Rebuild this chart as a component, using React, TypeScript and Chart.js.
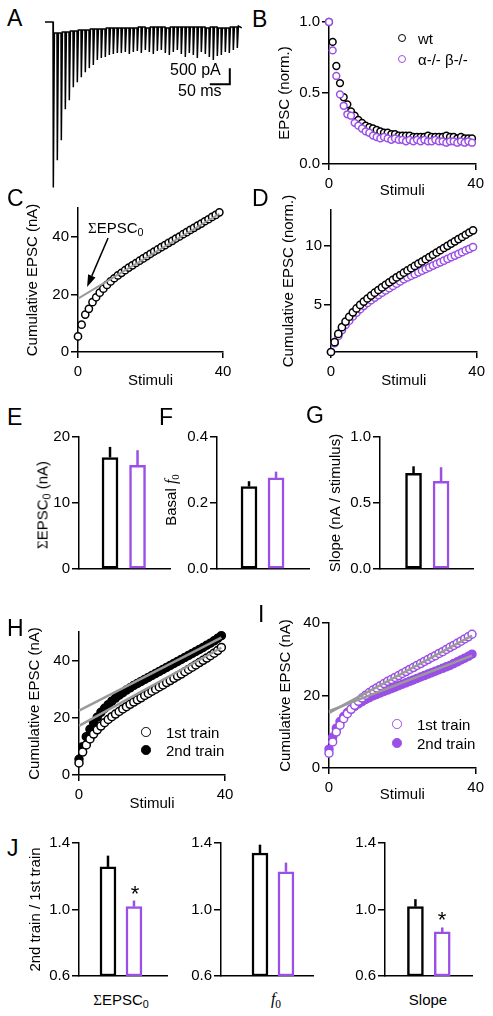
import React, { useEffect, useRef } from 'react';
import { Chart, registerables } from 'chart.js';

Chart.register(...registerables);

const SANS = "'Liberation Sans', Arial, Helvetica, sans-serif";
const SERIF = "'Liberation Serif', 'Times New Roman', serif";
const BLACK = '#000000';
const PURPLE = '#9a4fe6';
const GRAY = '#9a9a9a';

// ---------- Panel A: EPSC train ----------
const stimIntervalMs = 10;
const epscAmplitudePA = [5156, 4313, 3688, 2719, 2438, 2031, 1875, 1719, 1563, 1438, 1344, 1188, 1125, 1094, 1031, 1000, 969, 969, 938, 1000, 938, 906, 969, 875, 938, 1000, 906, 875, 969, 1031, 938, 875, 1000, 1094, 969, 1031, 1125, 938, 1000, 1094, 1188, 1063, 1031, 938, 969, 875, 813];
const residualCurrentPA = [344, 344, 313, 313, 281, 281, 250, 250, 250, 219, 219, 219, 219, 188, 188, 188, 188, 188, 188, 188, 188, 156, 156, 188, 156, 156, 156, 156, 188, 156, 156, 156, 156, 156, 156, 156, 156, 156, 188, 156, 156, 188, 188, 188, 156, 156, 125];
const scaleBarPA = 500;
const scaleBarMs = 50;
const scaleBarCornerMs = 442;
const scaleBarCornerPA = -1940;

// ---------- Panel B ----------
const stimTicks = [0, 40];
const bWt = [1.0, 0.86, 0.69, 0.57, 0.47, 0.42, 0.37, 0.34, 0.31, 0.29, 0.27, 0.26, 0.25, 0.24, 0.23, 0.22, 0.22, 0.21, 0.21, 0.2, 0.2, 0.2, 0.2, 0.19, 0.19, 0.19, 0.19, 0.2, 0.19, 0.19, 0.19, 0.19, 0.2, 0.19, 0.19, 0.18, 0.19, 0.18, 0.18, 0.18];
const bKo = [1.0, 0.8, 0.62, 0.49, 0.41, 0.35, 0.34, 0.29, 0.27, 0.25, 0.23, 0.22, 0.2, 0.19, 0.18, 0.19, 0.18, 0.17, 0.18, 0.17, 0.17, 0.16, 0.17, 0.16, 0.17, 0.16, 0.17, 0.16, 0.16, 0.17, 0.16, 0.16, 0.15, 0.16, 0.16, 0.15, 0.16, 0.15, 0.16, 0.15];
const bYTicks = [0, 0.5, 1.0];

// ---------- Panel C ----------
const cCumulative = [5.4, 9.5, 13.0, 15.0, 17.3, 19.0, 20.6, 22.0, 23.3, 24.5, 25.6, 26.6, 27.5, 28.4, 29.3, 30.1, 30.9, 31.7, 32.5, 33.3, 34.1, 34.9, 35.6, 36.4, 37.1, 37.9, 38.6, 39.4, 40.1, 40.9, 41.6, 42.4, 43.1, 43.9, 44.6, 45.4, 46.1, 46.9, 47.6, 48.5];
const cFitX = [0, 39];
const cFitY = [18.5, 48.0];
const cYTicks = [0, 20, 40];
const cArrowFrom = [8.3, 39.6];
const cArrowTo = [2.5, 22.6];

// ---------- Panel D ----------
const dWt = [1.0, 1.83, 2.53, 3.1, 3.57, 3.98, 4.35, 4.68, 4.98, 5.26, 5.52, 5.77, 6.01, 6.24, 6.46, 6.68, 6.89, 7.1, 7.3, 7.5, 7.7, 7.89, 8.08, 8.27, 8.46, 8.65, 8.84, 9.03, 9.22, 9.41, 9.6, 9.79, 9.97, 10.16, 10.35, 10.54, 10.72, 10.91, 11.1, 11.28];
const dKo = [1.0, 1.75, 2.35, 2.85, 3.28, 3.65, 4.0, 4.32, 4.62, 4.9, 5.15, 5.38, 5.6, 5.81, 6.01, 6.2, 6.39, 6.58, 6.77, 6.96, 7.15, 7.3, 7.44, 7.58, 7.73, 7.87, 8.01, 8.15, 8.3, 8.44, 8.58, 8.72, 8.87, 9.01, 9.15, 9.29, 9.44, 9.58, 9.72, 9.87];
const dYTicks = [5, 10];

// ---------- Panels E, F, G (wt, ko) ----------
const eMean = [16.9, 15.7];
const eSem = [1.6, 2.3];
const eYTicks = [0, 10, 20];
const fMean = [0.25, 0.276];
const fSem = [0.016, 0.019];
const fYTicks = [0, 0.2, 0.4];
const gMean = [0.725, 0.665];
const gSem = [0.053, 0.106];
const gYTicks = [0, 0.5, 1.0];

// ---------- Panel H ----------
const hTrain1 = [4.2, 8.0, 10.5, 12.6, 14.3, 15.8, 17.1, 18.3, 19.4, 20.4, 21.3, 22.2, 23.1, 23.9, 24.7, 25.5, 26.3, 27.0, 27.8, 28.5, 29.3, 30.0, 30.8, 31.5, 32.3, 33.0, 33.8, 34.6, 35.3, 36.1, 36.9, 37.7, 38.5, 39.3, 40.1, 40.9, 41.7, 42.6, 43.5, 44.6];
const hTrain2 = [5.5, 9.9, 13.4, 16.0, 18.3, 20.2, 21.9, 23.3, 24.6, 25.8, 26.9, 27.9, 28.8, 29.7, 30.5, 31.3, 32.0, 32.7, 33.4, 34.1, 34.8, 35.5, 36.2, 36.9, 37.6, 38.3, 39.0, 39.7, 40.4, 41.1, 41.8, 42.5, 43.2, 43.9, 44.6, 45.4, 46.1, 46.9, 47.8, 48.7];
const hFit1Y = [17.2, 44.5];
const hFit2Y = [22.5, 48.0];
const hYTicks = [0, 20, 40];

// ---------- Panel I ----------
const iTrain1 = [4.1, 7.2, 9.9, 11.8, 13.6, 15.0, 16.2, 17.3, 18.4, 19.3, 20.1, 20.8, 21.5, 22.1, 22.7, 23.3, 23.9, 24.4, 25.0, 25.5, 26.1, 26.6, 27.2, 27.7, 28.3, 28.8, 29.4, 29.9, 30.5, 31.0, 31.6, 32.1, 32.7, 33.3, 33.8, 34.4, 35.0, 35.6, 36.2, 36.9];
const iTrain2 = [5.2, 8.5, 11.0, 12.8, 14.2, 15.3, 16.2, 17.0, 17.7, 18.3, 18.9, 19.4, 19.9, 20.3, 20.7, 21.1, 21.5, 21.9, 22.3, 22.7, 23.1, 23.5, 23.9, 24.3, 24.7, 25.1, 25.5, 25.9, 26.3, 26.7, 27.1, 27.5, 27.9, 28.3, 28.8, 29.3, 29.8, 30.3, 30.8, 31.4];
const iFit1Y = [15.2, 36.5];
const iFit2Y = [15.7, 31.0];
const iYTicks = [0, 20, 40];
const fitX = [0, 39];

// ---------- Panel J (2nd / 1st train ratios: wt, ko) ----------
const jSigmaMean = [1.256, 1.017];
const jSigmaSem = [0.068, 0.037];
const jF0Mean = [1.34, 1.227];
const jF0Sem = [0.05, 0.055];
const jSlopeMean = [1.017, 0.865];
const jSlopeSem = [0.045, 0.027];
const jYTicks = [0.6, 1.0, 1.4];

const groupColors = [BLACK, PURPLE];

// ---------- helpers ----------
type Geo = { x0: number; x1: number; y0: number; y1: number; l: number; t: number; r: number; b: number };

const pts = (vals: number[]) => vals.map((y, i) => ({ x: i, y }));
const pairs = (xs: number[], ys: number[]) => xs.map((x, i) => ({ x, y: ys[i] }));

function yAxis(o: { min: number; max: number; ticks: number[]; dec: number; width: number; title?: string; titlePad?: number }) {
  return {
    type: 'linear',
    position: 'left',
    min: o.min,
    max: o.max,
    afterFit: (s: any) => { s.width = o.width; },
    afterBuildTicks: (s: any) => { s.ticks = o.ticks.map((v) => ({ value: v })); },
    border: { display: true, color: BLACK, width: 1.5 },
    grid: { display: true, drawOnChartArea: false, drawTicks: true, tickLength: 7, color: BLACK, lineWidth: 1.5 },
    ticks: { color: BLACK, font: { family: SANS, size: 15 }, padding: 2, callback: (v: number) => Number(v).toFixed(o.dec) },
    title: o.title
      ? { display: true, text: o.title, color: BLACK, font: { family: SANS, size: 15 }, padding: { top: o.titlePad ?? 6, bottom: 0 } }
      : { display: false },
  };
}

function xStimAxis(height: number) {
  return {
    type: 'linear',
    position: 'bottom',
    min: 0,
    max: 40,
    afterFit: (s: any) => { s.height = height; },
    afterBuildTicks: (s: any) => { s.ticks = stimTicks.map((v) => ({ value: v })); },
    border: { display: true, color: BLACK, width: 1.5 },
    grid: { display: true, drawOnChartArea: false, drawTicks: true, tickLength: 6, color: BLACK, lineWidth: 1.5 },
    ticks: { color: BLACK, font: { family: SANS, size: 15 }, padding: 5, maxRotation: 0 },
    title: { display: true, text: 'Stimuli', color: BLACK, font: { family: SANS, size: 15 }, padding: { top: 0, bottom: 0 } },
  };
}

function xBarAxis(min: number, max: number, height: number) {
  return {
    type: 'linear',
    position: 'bottom',
    min,
    max,
    offset: false,
    afterFit: (s: any) => { s.height = height; },
    border: { display: true, color: BLACK, width: 1.5 },
    grid: { display: false, offset: false },
    ticks: { display: false },
  };
}

function baseOptions(geo: Geo, scales: any) {
  return {
    responsive: false,
    animation: false,
    events: [],
    layout: { autoPadding: false, padding: { left: 0, top: geo.t, right: geo.r, bottom: 0 } },
    plugins: { legend: { display: false }, tooltip: { enabled: false }, title: { display: false } },
    scales,
  };
}

function circles(vals: number[], color: string, filled: boolean, r = 3.5) {
  return {
    type: 'scatter',
    data: pts(vals),
    showLine: false,
    pointStyle: 'circle',
    pointRadius: r,
    pointBorderWidth: 1.5,
    pointBorderColor: color,
    pointBackgroundColor: filled ? color : '#ffffff',
    clip: false,
  };
}

function fitLine(ys: number[], width = 2) {
  return {
    type: 'line',
    data: pairs(fitX, ys),
    showLine: true,
    borderColor: GRAY,
    borderWidth: width,
    pointRadius: 0,
    clip: false,
  };
}

function barChart(geo: Geo, means: number[], sems: number[], xMin: number, xMax: number, y: any, floorValue?: number) {
  const barData = means.map((m, i) => ({ x: i + 1, y: floorValue === undefined ? m : [floorValue, m] }));
  const errSets = means.map((m, i) => ({
    type: 'line',
    data: [{ x: i + 1, y: m }, { x: i + 1, y: m + sems[i] }],
    borderColor: groupColors[i],
    borderWidth: 2.5,
    pointRadius: 0,
    clip: false,
  }));
  return {
    type: 'bar',
    data: {
      datasets: [
        ...errSets,
        {
          type: 'bar',
          data: barData,
          backgroundColor: '#ffffff',
          borderColor: groupColors,
          borderWidth: 2.5,
          borderSkipped: false,
          barThickness: 16,
          clip: false,
        },
      ],
    },
    options: baseOptions(geo, { x: xBarAxis(xMin, xMax, geo.b), y }),
  };
}

function ChartCanvas({ geo, build, plugins }: { geo: Geo; build: () => any; plugins?: any[] }) {
  const ref = useRef<HTMLCanvasElement>(null);
  const left = geo.x0 - geo.l;
  const top = geo.y0 - geo.t;
  const width = geo.l + (geo.x1 - geo.x0) + geo.r;
  const height = geo.t + (geo.y1 - geo.y0) + geo.b;
  useEffect(() => {
    const cfg = build();
    if (plugins) cfg.plugins = plugins;
    const chart = new Chart(ref.current as HTMLCanvasElement, cfg);
    return () => chart.destroy();
  }, []);
  return <canvas ref={ref} width={width} height={height} style={{ position: 'absolute', left, top, width, height }} />;
}

function Txt({ x, y, size = 15, anchor = 'start', family = SANS, children, style }: any) {
  const tx = anchor === 'middle' ? 'translateX(-50%)' : anchor === 'end' ? 'translateX(-100%)' : undefined;
  return (
    <div
      style={{
        position: 'absolute', left: x, top: y - 0.8465 * size, fontSize: size, lineHeight: `${size}px`,
        fontFamily: family, whiteSpace: 'nowrap', color: BLACK, transform: tx, ...style,
      }}
    >
      {children}
    </div>
  );
}

function VTxt({ cx, cy, size = 15, children }: any) {
  return (
    <div
      style={{
        position: 'absolute', left: cx, top: cy, fontSize: size, lineHeight: `${size}px`, fontFamily: SANS,
        whiteSpace: 'nowrap', color: BLACK, transform: 'translate(-50%, -50%) rotate(-90deg)',
      }}
    >
      {children}
    </div>
  );
}

const Sub = ({ children, family }: any) => (
  <span style={{ fontSize: '0.72em', position: 'relative', top: '0.28em', fontFamily: family }}>{children}</span>
);

function Dot({ cx, cy, r = 3.5, color, filled }: any) {
  const s = 2 * (r + 0.75);
  return (
    <div
      style={{
        position: 'absolute', left: cx - s / 2, top: cy - s / 2, width: s, height: s, boxSizing: 'border-box',
        border: `1.5px solid ${color}`, borderRadius: '50%', background: filled ? color : '#ffffff',
      }}
    />
  );
}

const arrowPlugin = {
  id: 'arrowC',
  afterDatasetsDraw(chart: any) {
    const { ctx, scales } = chart;
    const x1 = scales.x.getPixelForValue(cArrowFrom[0]);
    const y1 = scales.y.getPixelForValue(cArrowFrom[1]);
    const x2 = scales.x.getPixelForValue(cArrowTo[0]);
    const y2 = scales.y.getPixelForValue(cArrowTo[1]);
    const ang = Math.atan2(y2 - y1, x2 - x1);
    const hl = 12;
    const hw = 4;
    const c = Math.cos(ang);
    const s = Math.sin(ang);
    ctx.save();
    ctx.strokeStyle = BLACK;
    ctx.fillStyle = BLACK;
    ctx.lineWidth = 1.5;
    ctx.beginPath();
    ctx.moveTo(x1, y1);
    ctx.lineTo(x2 - hl * c, y2 - hl * s);
    ctx.stroke();
    ctx.beginPath();
    ctx.moveTo(x2, y2);
    ctx.lineTo(x2 - hl * c + hw * s, y2 - hl * s - hw * c);
    ctx.lineTo(x2 - hl * c - hw * s, y2 - hl * s + hw * c);
    ctx.closePath();
    ctx.fill();
    ctx.restore();
  },
};

// ---------- geometry ----------
const geoA: Geo = { x0: 45, x1: 243, y0: 20, y1: 192, l: 0, t: 0, r: 0, b: 0 };
const geoB: Geo = { x0: 329, x1: 477, y0: 22, y1: 164, l: 59, t: 14, r: 12, b: 36 };
const geoC: Geo = { x0: 78, x1: 223, y0: 208, y1: 352, l: 60, t: 12, r: 14, b: 38 };
const geoD: Geo = { x0: 331, x1: 478, y0: 210, y1: 352, l: 57, t: 24, r: 12, b: 38 };
const geoE: Geo = { x0: 79, x1: 170, y0: 436, y1: 576, l: 40, t: 10, r: 4, b: 4 };
const geoF: Geo = { x0: 217, x1: 309, y0: 436, y1: 576, l: 50, t: 10, r: 4, b: 4 };
const geoG: Geo = { x0: 380, x1: 473, y0: 436, y1: 576, l: 59, t: 10, r: 4, b: 4 };
const geoH: Geo = { x0: 79, x1: 225, y0: 632, y1: 775, l: 59, t: 12, r: 14, b: 38 };
const geoI: Geo = { x0: 329, x1: 477, y0: 623, y1: 768, l: 58, t: 12, r: 12, b: 36 };
const geoJ1: Geo = { x0: 79, x1: 167, y0: 842, y1: 983, l: 58, t: 10, r: 4, b: 4 };
const geoJ2: Geo = { x0: 221, x1: 313, y0: 842, y1: 983, l: 45, t: 10, r: 4, b: 4 };
const geoJ3: Geo = { x0: 385, x1: 472, y0: 842, y1: 983, l: 45, t: 10, r: 4, b: 4 };

function buildA() {
  const trace: { x: number; y: number }[] = [{ x: -20, y: 0 }];
  epscAmplitudePA.forEach((amp, i) => {
    const t = i * stimIntervalMs;
    const prev = i === 0 ? 0 : -residualCurrentPA[i - 1];
    trace.push({ x: t, y: prev });
    trace.push({ x: t + 0.8, y: -amp });
    trace.push({ x: t + 3.5, y: -residualCurrentPA[i] });
  });
  const last = (epscAmplitudePA.length - 1) * stimIntervalMs;
  trace.push({ x: last + 12, y: -residualCurrentPA[residualCurrentPA.length - 1] - 60 });
  const bar = [
    { x: scaleBarCornerMs, y: scaleBarCornerPA + scaleBarPA },
    { x: scaleBarCornerMs, y: scaleBarCornerPA },
    { x: scaleBarCornerMs - scaleBarMs, y: scaleBarCornerPA },
  ];
  return {
    type: 'line',
    data: {
      datasets: [
        { data: trace, borderColor: BLACK, borderWidth: 1.5, pointRadius: 0, tension: 0, clip: false },
        { data: bar, borderColor: BLACK, borderWidth: 2, pointRadius: 0, tension: 0, clip: false },
      ],
    },
    options: {
      ...baseOptions(geoA, {
        x: { type: 'linear', min: -20, max: 475, display: false },
        y: { type: 'linear', min: -5300, max: 62, display: false },
      }),
    },
  };
}

function buildB() {
  return {
    type: 'scatter',
    data: { datasets: [circles(bKo, PURPLE, false, 3.4), circles(bWt, BLACK, false, 3.4)] },
    options: baseOptions(geoB, {
      x: xStimAxis(geoB.b),
      y: yAxis({ min: 0, max: 1, ticks: bYTicks, dec: 1, width: geoB.l, title: 'EPSC (norm.)', titlePad: 6 }),
    }),
  };
}

function buildC() {
  return {
    type: 'scatter',
    data: {
      datasets: [
        { ...fitLine([]), data: pairs(cFitX, cFitY) },
        circles(cCumulative, BLACK, false, 3.6),
      ],
    },
    options: baseOptions(geoC, {
      x: xStimAxis(geoC.b),
      y: yAxis({ min: 0, max: 50, ticks: cYTicks, dec: 0, width: geoC.l, title: 'Cumulative EPSC (nA)', titlePad: 6 }),
    }),
  };
}

function buildD() {
  return {
    type: 'scatter',
    data: { datasets: [circles(dWt, BLACK, false, 3.6), circles(dKo, PURPLE, false, 3.6)] },
    options: baseOptions(geoD, {
      x: xStimAxis(geoD.b),
      y: yAxis({ min: 1, max: 13, ticks: dYTicks, dec: 0, width: geoD.l, title: 'Cumulative EPSC (norm.)', titlePad: 6 }),
    }),
  };
}

function buildH() {
  return {
    type: 'scatter',
    data: {
      datasets: [
        fitLine(hFit2Y, 2.5),
        fitLine(hFit1Y, 2.5),
        circles(hTrain1, BLACK, false, 4),
        circles(hTrain2, BLACK, true, 4),
      ],
    },
    options: baseOptions(geoH, {
      x: xStimAxis(geoH.b),
      y: yAxis({ min: 0, max: 50, ticks: hYTicks, dec: 0, width: geoH.l, title: 'Cumulative EPSC (nA)', titlePad: 6 }),
    }),
  };
}

function buildI() {
  return {
    type: 'scatter',
    data: {
      datasets: [
        fitLine(iFit1Y, 2.5),
        fitLine(iFit2Y, 2.5),
        circles(iTrain1, PURPLE, false, 4),
        circles(iTrain2, PURPLE, true, 4),
      ],
    },
    options: baseOptions(geoI, {
      x: xStimAxis(geoI.b),
      y: yAxis({ min: 0, max: 40, ticks: iYTicks, dec: 0, width: geoI.l, title: 'Cumulative EPSC (nA)', titlePad: 6 }),
    }),
  };
}

const buildE = () =>
  barChart(geoE, eMean, eSem, -0.127, 3.18, yAxis({ min: 0, max: 20, ticks: eYTicks, dec: 0, width: geoE.l }));
const buildF = () =>
  barChart(geoF, fMean, fSem, -0.185, 3.22, yAxis({ min: 0, max: 0.4, ticks: fYTicks, dec: 1, width: geoF.l }));
const buildG = () =>
  barChart(geoG, gMean, gSem, -0.218, 3.16,
    yAxis({ min: 0, max: 1, ticks: gYTicks, dec: 1, width: geoG.l, title: 'Slope (nA / stimulus)', titlePad: 6 }));
const buildJ1 = () =>
  barChart(geoJ1, jSigmaMean, jSigmaSem, -0.115, 3.27,
    yAxis({ min: 0.6, max: 1.4, ticks: jYTicks, dec: 1, width: geoJ1.l, title: '2nd train / 1st train', titlePad: 6 }), 0.6);
const buildJ2 = () =>
  barChart(geoJ2, jF0Mean, jF0Sem, -0.5, 3.04, yAxis({ min: 0.6, max: 1.4, ticks: jYTicks, dec: 1, width: geoJ2.l }), 0.6);
const buildJ3 = () =>
  barChart(geoJ3, jSlopeMean, jSlopeSem, -0.135, 3.11, yAxis({ min: 0.6, max: 1.4, ticks: jYTicks, dec: 1, width: geoJ3.l }), 0.6);

export default function App() {
  const L = 23;
  return (
    <div style={{ position: 'absolute', left: 0, top: 0, width: 493, height: 1016, background: '#ffffff', overflow: 'hidden' }}>
      <ChartCanvas geo={geoA} build={buildA} />
      <ChartCanvas geo={geoB} build={buildB} />
      <ChartCanvas geo={geoC} build={buildC} plugins={[arrowPlugin]} />
      <ChartCanvas geo={geoD} build={buildD} />
      <ChartCanvas geo={geoE} build={buildE} />
      <ChartCanvas geo={geoF} build={buildF} />
      <ChartCanvas geo={geoG} build={buildG} />
      <ChartCanvas geo={geoH} build={buildH} />
      <ChartCanvas geo={geoI} build={buildI} />
      <ChartCanvas geo={geoJ1} build={buildJ1} />
      <ChartCanvas geo={geoJ2} build={buildJ2} />
      <ChartCanvas geo={geoJ3} build={buildJ3} />

      {/* panel letters */}
      <Txt x={7} y={26} size={L}>A</Txt>
      <Txt x={252} y={27} size={L}>B</Txt>
      <Txt x={7} y={206} size={L}>C</Txt>
      <Txt x={252} y={206} size={L}>D</Txt>
      <Txt x={7} y={425} size={L}>E</Txt>
      <Txt x={159} y={425} size={L}>F</Txt>
      <Txt x={306} y={423} size={L}>G</Txt>
      <Txt x={7} y={636} size={L}>H</Txt>
      <Txt x={258} y={622} size={L}>I</Txt>
      <Txt x={7} y={856} size={L}>J</Txt>

      {/* A scale bar labels */}
      <Txt x={170} y={76} size={16}>500 pA</Txt>
      <Txt x={178} y={97} size={16}>50 ms</Txt>

      {/* B legend */}
      <Dot cx={402} cy={38} r={3.4} color={BLACK} />
      <Txt x={418} y={43.4}>wt</Txt>
      <Dot cx={402} cy={59} r={3.4} color={PURPLE} />
      <Txt x={418} y={64.4}>α-/- β-/-</Txt>

      {/* C annotation */}
      <Txt x={88} y={233}><span style={{ fontFamily: SERIF }}>Σ</span>EPSC<Sub>0</Sub></Txt>

      {/* E / F rotated titles */}
      <VTxt cx={43} cy={505}><span style={{ fontFamily: SERIF }}>Σ</span>EPSC<Sub>0</Sub> (nA)</VTxt>
      <VTxt cx={171} cy={500}>Basal <i style={{ fontFamily: SERIF, fontSize: 16 }}>f</i><Sub family={SERIF}>0</Sub></VTxt>

      {/* H legend */}
      <Dot cx={146} cy={732} r={4} color={BLACK} />
      <Txt x={166} y={737.4}>1st train</Txt>
      <Dot cx={146} cy={750} r={4} color={BLACK} filled />
      <Txt x={166} y={755.4}>2nd train</Txt>

      {/* I legend */}
      <Dot cx={397} cy={724} r={4} color={PURPLE} />
      <Txt x={417} y={729.4}>1st train</Txt>
      <Dot cx={397} cy={743} r={4} color={PURPLE} filled />
      <Txt x={417} y={748.4}>2nd train</Txt>

      {/* J category labels and significance */}
      <Txt x={121} y={1005} anchor="middle"><span style={{ fontFamily: SERIF }}>Σ</span>EPSC<Sub>0</Sub></Txt>
      <Txt x={276} y={1005} anchor="middle" family={SERIF} size={16}><i>f</i><Sub>0</Sub></Txt>
      <Txt x={428} y={1005} anchor="middle">Slope</Txt>
      <Txt x={135} y={902} size={22} anchor="middle">*</Txt>
      <Txt x={442} y={928} size={22} anchor="middle">*</Txt>
    </div>
  );
}
